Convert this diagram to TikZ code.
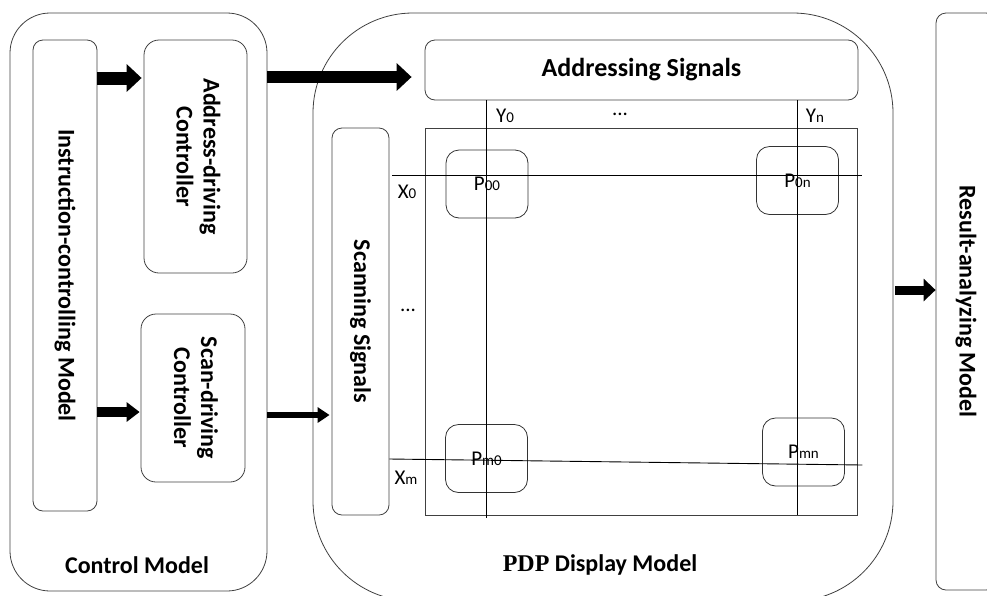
\documentclass[tikz,border=0pt]{standalone}
\usepackage{fontspec}
\setmainfont{Carlito}
\newfontfamily\pdpserif{Liberation Serif}
\usetikzlibrary{arrows.meta}
\newcommand{\lowsub}[1]{{\fontsize{15}{15}\selectfont #1}}

\begin{document}
\begin{tikzpicture}[x=1pt, y=-1pt,
    box/.style={draw=black!75, line width=0.8pt, rounded corners=12pt, inner sep=0pt, align=center, font=\bfseries\fontsize{24}{27}\selectfont},
    cell/.style={draw=black!80, line width=0.8pt, rounded corners=13pt, minimum width=82pt, minimum height=68pt, inner sep=0pt, font=\fontsize{21}{21}\selectfont},
    lbl/.style={inner sep=0pt, font=\fontsize{21}{21}\selectfont},
    title/.style={inner sep=0pt, font=\bfseries\fontsize{24}{24}\selectfont},
    wire/.style={black, line width=0.9pt},
    fat/.style={line width=13pt, -{Triangle[length=15pt,width=27pt]}},
    slim/.style={line width=8pt, -{Triangle[length=13pt,width=19pt]}}]
    \useasboundingbox (0,0) rectangle (987,595);

    % three models
    \node[box, rounded corners=40pt, minimum width=257pt, minimum height=578pt] (ctl) at (138.5,302) {};
    \node[box, rounded corners=100pt, minimum width=580pt, minimum height=588pt] (pdp) at (603,307) {};
    \node[box, rounded corners=10pt, minimum width=60pt, minimum height=577pt] (res) at (966,301.5) {\rotatebox{-90}{Result-analyzing Model}};

    \node[box, rounded corners=10pt, minimum width=64pt, minimum height=471pt] (instr) at (65,275.5) {\rotatebox{-90}{Instruction-controlling Model}};
    \node[box, rounded corners=15pt, minimum width=103pt, minimum height=233pt] (adc) at (195.5,156.5) {\rotatebox{-90}{\begin{tabular}{@{}c@{}}Address-driving\\Controller\end{tabular}}};
    \node[box, rounded corners=15pt, minimum width=104pt, minimum height=168pt] (sdc) at (193,398) {\rotatebox{-90}{\begin{tabular}{@{}c@{}}Scan-driving\\Controller\end{tabular}}};

    \node[box, rounded corners=10pt, minimum width=433pt, minimum height=60pt, font=\bfseries\fontsize{26}{26}\selectfont] (addr) at (641.5,70) {Addressing Signals};
    \node[box, rounded corners=10pt, minimum width=57pt, minimum height=387pt] (scan) at (360.5,321.5) {\rotatebox{-90}{Scanning Signals}};
    \node[draw=black!75, line width=0.8pt, minimum width=432pt, minimum height=387pt, inner sep=0pt] (panel) at (641,321.5) {};

    % pixels
    \node[cell] (p00) at (487,184) {P\lowsub{00}};
    \node[cell] (p0n) at (797.5,180.5) {P\lowsub{0n}};
    \node[cell] (pm0) at (486.5,458.5) {P\lowsub{m0}};
    \node[cell] (pmn) at (803.5,452) {P\lowsub{mn}};

    % electrodes
    \coordinate (y0) at (486,0);
    \coordinate (yn) at (797,0);
    \coordinate (x0) at (0,175);
    \coordinate (xm) at (0,459);
    \coordinate (xmEnd) at (0,465);
    \draw[wire] (addr.south -| y0) -- ([yshift=-3pt]panel.south -| y0);
    \draw[wire] (addr.south -| yn) -- (panel.south -| yn);
    \draw[wire] ([xshift=3pt]scan.east |- x0) -- ([xshift=5pt]panel.east |- x0);
    \draw[wire] (scan.east |- xm) -- ([xshift=5pt]panel.east |- xmEnd);

    \node[lbl] (y0lbl) at (505,116) {Y\lowsub{0}};
    \node[lbl] (ydots) at (620,114) {...};
    \node[lbl] (ynlbl) at (815,116) {Y\lowsub{n}};
    \node[lbl] (x0lbl) at (407,192) {X\lowsub{0}};
    \node[lbl] (xdots) at (408,310) {...};
    \node[lbl] (xmlbl) at (406,478) {X\lowsub{m}};

    \node[title] (ctlLbl) at (137,565) {Control Model};
    \node[title] (pdpLbl) at (600,565) {{\pdpserif PDP} Display Model};

    % block arrows
    \coordinate (rowA) at (0,78);
    \coordinate (rowB) at (0,412);
    \coordinate (rowC) at (0,77);
    \coordinate (rowD) at (0,415);
    \coordinate (rowE) at (0,290);
    \draw[fat, shorten >=2pt] (instr.east |- rowA) -- (adc.west |- rowA);
    \draw[slim, line width=10pt, shorten >=1pt] (instr.east |- rowB) -- (sdc.west |- rowB);
    \draw[fat, line width=12pt, shorten >=13pt] (ctl.east |- rowC) -- (addr.west |- rowC);
    \draw[slim, line width=6pt, -{Triangle[length=12pt,width=15pt]}, shorten >=2pt] (ctl.east |- rowD) -- (scan.west |- rowD);
    \draw[slim, line width=9pt, -{Triangle[length=12pt,width=22pt]}] ([xshift=2pt]pdp.east |- rowE) -- (res.west |- rowE);
\end{tikzpicture}
\end{document}
